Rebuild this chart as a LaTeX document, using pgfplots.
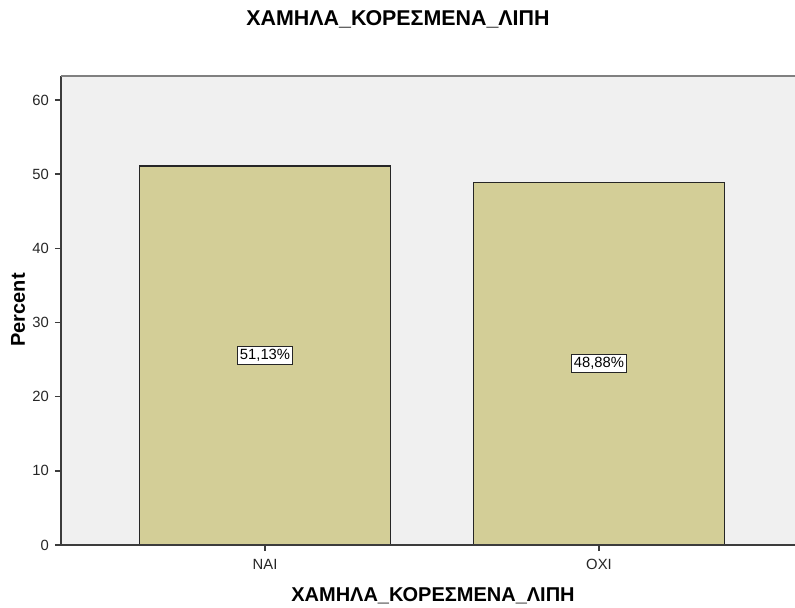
\documentclass[border=0pt]{standalone}
\usepackage{fontspec}
\setmainfont{Liberation Sans}
\usepackage{pgfplots}
\pgfplotsset{compat=1.18}
\definecolor{bgcol}{RGB}{240,240,240}
\definecolor{barcol}{RGB}{211,206,151}
\definecolor{framecol}{RGB}{60,60,60}
\begin{document}
\begin{tikzpicture}
\begin{axis}[
  at={(0,0)}, anchor=south west,
  scale only axis,
  width=367pt, height=234.5pt,
  xmin=-0.611, xmax=1.587,
  ymin=0, ymax=63.24,
  axis background/.style={fill=bgcol},
  axis line style={draw=none},
  xtick={0,1},
  xticklabels={ΝΑΙ,ΟΧΙ},
  ytick={0,10,20,30,40,50,60},
  tick align=outside,
  xtick pos=bottom, ytick pos=left,
  major tick length=3pt,
  tick style={framecol, line width=0.8pt},
  tick label style={font=\fontsize{7.4}{8.5}\selectfont, text=black!85},
  /pgf/number format/assume math mode=true,
  xticklabel style={yshift=-0.5pt},
  yticklabel style={xshift=0.5pt},
  clip=false,
]
\addplot[ybar, bar width=0.7515, fill=barcol, draw=black!85, line width=0.7pt]
  coordinates {(0,51.13) (1,48.88)};
\addplot[draw=none, mark=none,
  nodes near coords, point meta=explicit symbolic,
  nodes near coords align=center,
  every node near coord/.append style={anchor=center, fill=white, draw=black!85,
     line width=0.5pt, inner sep=1.4pt, font=\fontsize{7.4}{8.5}\selectfont}]
  coordinates {(0,25.565) [51,13\%] (1,24.44) [48,88\%]};
\draw[framecol, line width=0.9pt] (rel axis cs:0,1) -- (rel axis cs:0,0) -- (rel axis cs:1,0);
\draw[black!50, line width=1pt] (rel axis cs:0,1) -- (rel axis cs:1,1);
\end{axis}
\node[font=\bfseries\fontsize{10.7}{12}\selectfont] at (168.5pt,263pt) {ΧΑΜΗΛΑ\_ΚΟΡΕΣΜΕΝΑ\_ΛΙΠΗ};
\node[font=\bfseries\fontsize{10}{12}\selectfont] at (186pt,-25.5pt) {ΧΑΜΗΛΑ\_ΚΟΡΕΣΜΕΝΑ\_ΛΙΠΗ};
\node[font=\bfseries\fontsize{10}{11}\selectfont, rotate=90] at (-21.5pt,117.5pt) {Percent};
\pgfresetboundingbox
\path (-30.5pt,-31pt) rectangle (367pt,272.5pt);
\end{tikzpicture}
\end{document}
